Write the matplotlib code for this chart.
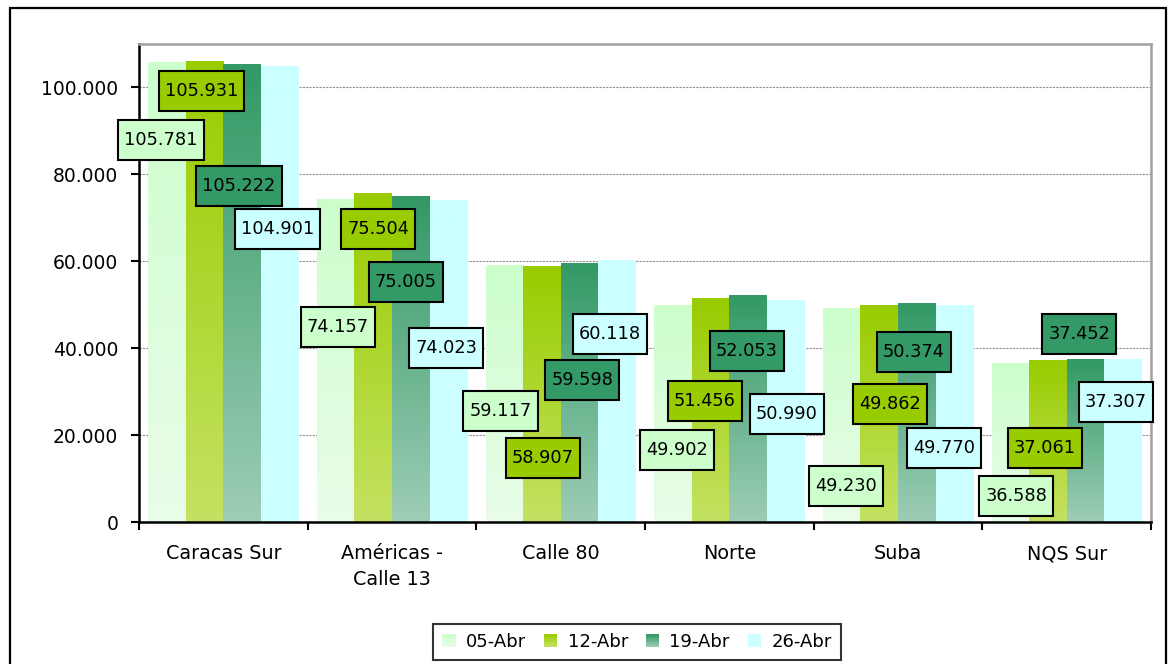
import numpy as np
import matplotlib.pyplot as plt
from matplotlib.patches import Rectangle
from matplotlib.path import Path
from matplotlib.legend_handler import HandlerBase

# Boardings per station, four weeks of April
stations = ["Caracas Sur", "Américas -\nCalle 13", "Calle 80", "Norte", "Suba", "NQS Sur"]
weeks = ["05-Abr", "12-Abr", "19-Abr", "26-Abr"]
abr05 = [105781, 74157, 59117, 49902, 49230, 36588]
abr12 = [105931, 75504, 58907, 51456, 49862, 37061]
abr19 = [105222, 75005, 59598, 52053, 50374, 37452]
abr26 = [104901, 74023, 60118, 50990, 49770, 37307]

# top / bottom colours of each series gradient
TOP = ["#ccffcc", "#99cc00", "#339966", "#ccffff"]
BOTTOM = ["#e9fce9", "#c4e262", "#9dcdb5", "#ccffff"]

# where each value box sits: height (thousands) and pixel nudge from the bar centre
LABEL_Y = [
    [87.8, 44.9, 25.6, 16.6, 8.3, 6.0],
    [99.1, 67.5, 14.7, 27.9, 27.2, 17.1],
    [77.4, 55.3, 32.7, 39.4, 39.2, 43.3],
    [67.5, 40.1, 43.3, 24.9, 17.1, 27.6],
]
LABEL_DX = [
    [-6, 2, -4, 4, 4, 6],
    [-3, 5, 1, -6, 11, -3],
    [-3, -5, 3, -1, -3, -6],
    [-2, -2, -7, 1, -10, -7],
]


def fmt(v):
    return f"{v:,.0f}".replace(",", ".")


def gradient(top, bottom, n=64):
    t = np.linspace(0, 1, n)[:, None]
    c0 = np.array(plt.matplotlib.colors.to_rgb(top))
    c1 = np.array(plt.matplotlib.colors.to_rgb(bottom))
    return (c0 * (1 - t) + c1 * t)[:, None, :]


def label_box(x0, y0, width, height, mutation_size):
    # plain rectangle, roomier above/below than at the sides
    px = 0.34 * mutation_size
    py = 0.62 * mutation_size
    x0, y0 = x0 - px, y0 - py
    x1, y1 = x0 + width + 2 * px, y0 + height + 2 * py
    return Path([(x0, y0), (x1, y0), (x1, y1), (x0, y1), (x0, y0)],
                closed=True)


class Swatch:
    def __init__(self, top, bottom):
        self.top, self.bottom = top, bottom


class SwatchHandler(HandlerBase):
    def create_artists(self, legend, handle, xdescent, ydescent, width, height, fontsize, trans):
        n = 10
        side = height
        x0, y0 = -xdescent, -ydescent
        out = []
        c0 = np.array(plt.matplotlib.colors.to_rgb(handle.top))
        c1 = np.array(plt.matplotlib.colors.to_rgb(handle.bottom))
        for i in range(n):
            t = i / (n - 1)
            col = c1 * (1 - t) + c0 * t
            out.append(Rectangle((x0, y0 + side * i / n), side, side / n + 0.3,
                                 fc=col, ec="none", transform=trans))
        return out


plt.rcParams["font.family"] = "DejaVu Sans"
fig = plt.figure(figsize=(11.68, 6.64), dpi=100)
ax = fig.add_axes([139 / 1168, 1 - 522 / 664, (1151 - 139) / 1168, (522 - 44) / 664])

# outer frame
fig.patches.append(Rectangle((10 / 1168, -0.05), (1166 - 10) / 1168, 1.05 - 8 / 664,
                             transform=fig.transFigure, fill=False, ec="black", lw=1.6))

series = [abr05, abr12, abr19, abr26]
x = np.arange(len(stations))
width = 0.2225
offsets = (np.arange(4) - 1.5) * width

for s, vals in enumerate(series):
    bars = ax.bar(x + offsets[s], vals, width, color="none", edgecolor="none", zorder=1)
    img = gradient(TOP[s], BOTTOM[s])
    for rect in bars:
        x0 = rect.get_x()
        ax.imshow(img, extent=[x0, x0 + rect.get_width(), 0, rect.get_height()],
                  aspect="auto", interpolation="bilinear", zorder=1)
    for i, rect in enumerate(bars):
        ax.annotate(fmt(vals[i]), xy=(rect.get_x() + rect.get_width() / 2, LABEL_Y[s][i] * 1000),
                    xytext=(LABEL_DX[s][i], 0), textcoords="offset pixels",
                    ha="center", va="center", fontsize=12.8, zorder=5,
                    bbox=dict(boxstyle=label_box, fc=TOP[s], ec="black", lw=1.5))

ax.set_xlim(-0.5, len(stations) - 0.5)
ax.set_ylim(0, 110000)
ax.set_yticks(np.arange(0, 100001, 20000))
ax.set_yticklabels([fmt(v) for v in np.arange(0, 100001, 20000)], fontsize=13.5)
ax.set_xticks(x)
ax.set_xticklabels(stations, fontsize=13.8, linespacing=1.45)
ax.set_xticks(np.arange(-0.5, len(stations)), minor=True)
ax.tick_params(axis="x", which="major", length=0, pad=16)
ax.tick_params(axis="x", which="minor", length=6, width=1.5, direction="out")
ax.tick_params(axis="y", length=6, width=1.5, pad=9)

ax.yaxis.grid(True, linestyle=(0, (2, 1)), color="#909090", lw=0.8)
ax.set_axisbelow(True)
for side in ("left", "bottom"):
    ax.spines[side].set_color("black")
    ax.spines[side].set_linewidth(1.8)
for side in ("top", "right"):
    ax.spines[side].set_color("#a0a0a0")
    ax.spines[side].set_linewidth(1.8)

handles = [Swatch(TOP[s], BOTTOM[s]) for s in range(4)]
leg = fig.legend(handles, weeks, handler_map={Swatch: SwatchHandler()}, ncol=4,
                 loc="center", bbox_to_anchor=(637 / 1168, 1 - 642 / 664),
                 fontsize=13, frameon=True, fancybox=False, handlelength=0.75,
                 handleheight=0.75, handletextpad=0.55, columnspacing=1.0,
                 borderpad=0.5, borderaxespad=0)
leg.get_frame().set_edgecolor("black")
leg.get_frame().set_linewidth(1.5)

fig.savefig("out.png", dpi=100)
